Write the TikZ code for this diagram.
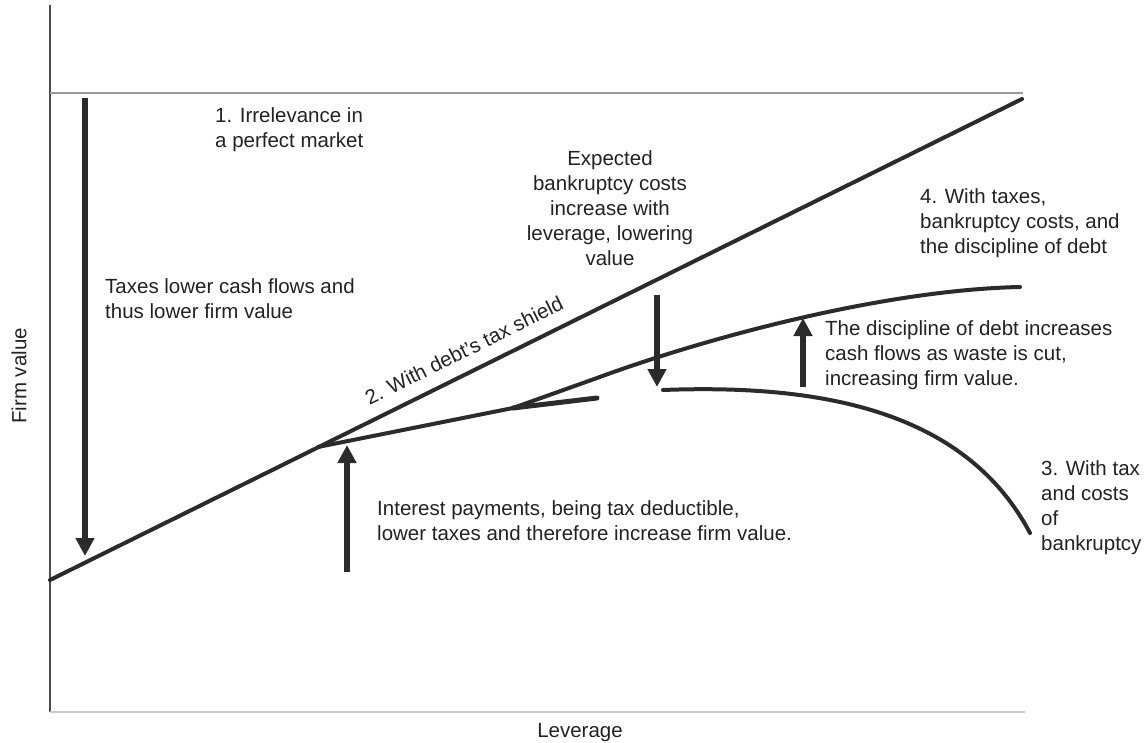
\documentclass[tikz,border=0pt]{standalone}
\usepackage{fontspec}
\setmainfont{Liberation Sans}
\usepackage{xcolor}
\usepackage{tikz}
\usetikzlibrary{arrows.meta,positioning}
\definecolor{inkgray}{HTML}{2B2B2B}
\definecolor{textgray}{HTML}{222222}
\definecolor{rulegray}{HTML}{9A9A9A}
\definecolor{lightgray}{HTML}{C8C8C8}

\begin{document}
\begin{tikzpicture}[x=1pt,y=-1pt,
                        curve/.style={draw=inkgray, line width=4pt, line cap=round},
                        pusharrow/.style={draw=inkgray, line width=6.5pt, -{Triangle[length=18pt,width=18pt]}},
                        note/.style={inner sep=0pt, align=left, anchor=north west, text=textgray, font=\fontsize{20.5}{25}\selectfont}]
                        \useasboundingbox (0,0) rectangle (1148,743);
                        % axes
                        \coordinate (ytop) at (50,5);
                        \coordinate (origin) at (50,712);
                        \coordinate (xend) at (1025,712);
                        \draw [draw=black!70, line width=2pt] (ytop) -- (origin);
                        \draw [draw=lightgray, line width=2.5pt] (origin) -- (xend);
                        % 1. perfect market
                        \coordinate (flatL) at (50,93);
                        \coordinate (flatR) at (1023,93);
                        \draw [draw=rulegray, line width=2pt] (flatL) -- (flatR);
                        % 2. tax shield
                        \coordinate (shieldL) at (50,580);
                        \coordinate (shieldR) at (1022,99);
                        \draw [curve] (shieldL) -- node[note, pos=0.436, sloped, above=12.6pt] (shieldlbl) {2. With debt's tax shield} (shieldR);
                        % 4. taxes, bankruptcy, discipline
                        \draw [curve] (318,447) -- (513,408) -- (597,378) .. controls (700,340) and (880,290) .. (1020,287);
                        \draw [curve, line width=5pt] (513,408) -- (597,398);
                        % 3. tax and bankruptcy costs
                        \draw [curve] (663,390) .. controls (820,384) and (965,410) .. (1030,533);
                        % arrows
                        \coordinate (taxtop) at (85,98);
                        \coordinate (taxbot) at (85,556);
                        \coordinate (intbot) at (347,572);
                        \coordinate (inttop) at (347,445);
                        \coordinate (bktop) at (657,295);
                        \coordinate (bkbot) at (657,387);
                        \coordinate (dscbot) at (803,387);
                        \coordinate (dsctop) at (803,318);
                        \draw [pusharrow] (taxtop) -- (taxbot);
                        \draw [pusharrow] (intbot) -- (inttop);
                        \draw [pusharrow] (bktop) -- (bkbot);
                        \draw [pusharrow] (dscbot) -- (dsctop);
                        % labels
                        \node[note] (irrel) at (215,107.5) {1. Irrelevance in\\a perfect market};
                        \node[note] (taxes) at (105,278.5) {Taxes lower cash flows and\\thus lower firm value};
                        \node[note, align=center, anchor=north] (expect) at (610,150.5) {Expected\\bankruptcy costs\\increase with\\leverage, lowering\\value};
                        \node[note] (withall) at (920,188.5) {4. With taxes,\\bankruptcy costs, and\\the discipline of debt};
                        \node[note] (discipline) at (825,320.5) {The discipline of debt increases\\cash flows as waste is cut,\\increasing firm value.};
                        \node[note] (interest) at (377,500.5) {Interest payments, being tax deductible,\\lower taxes and therefore increase firm value.};
                        \node[note] (withcosts) at (1041,460.5) {3. With tax\\and costs\\of\\bankruptcy};
                        \node[note, anchor=center, rotate=90] (ylabel) at (19,376) {Firm value};
                        \node[note, anchor=base] (xlabel) at (580,737) {Leverage};
                        \end{tikzpicture}
\end{document}
